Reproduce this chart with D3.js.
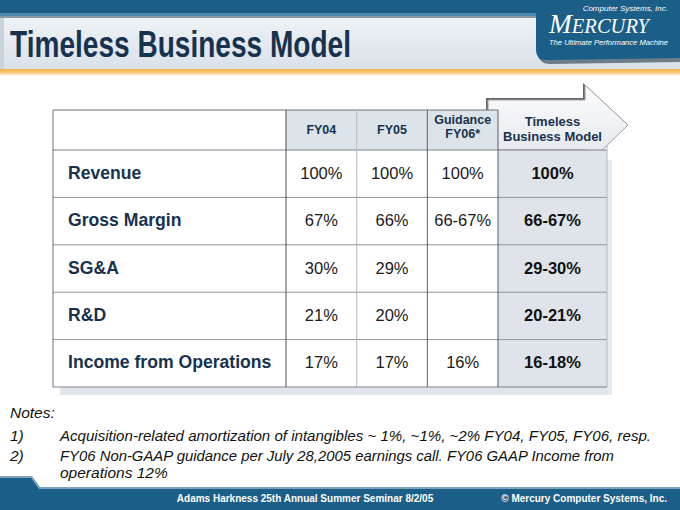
<!DOCTYPE html>
<html><head><meta charset="utf-8">
<script src="https://cdn.jsdelivr.net/npm/d3@7"></script>
<style>html,body{margin:0;padding:0;background:#fff}svg{display:block}</style>
</head><body>
<svg id="c" width="680" height="510"></svg>
<script>
const title = "Timeless Business Model";
const categories = ["Revenue", "Gross Margin", "SG&A", "R&D", "Income from Operations"];
const columns = ["FY04", "FY05", "FY06"];
const columnHeaders = [["FY04"], ["FY05"], ["Guidance", "FY06*"]];
const modelHeader = ["Timeless", "Business Model"];
const fy04 = ["100%", "67%", "30%", "21%", "17%"];
const fy05 = ["100%", "66%", "29%", "20%", "17%"];
const fy06 = ["100%", "66-67%", "", "", "16%"];
const model = ["100%", "66-67%", "29-30%", "20-21%", "16-18%"];
const notes = [
  ["", "Notes:"],
  ["1)", "Acquisition-related amortization of intangibles ~ 1%, ~1%, ~2% FY04, FY05, FY06, resp."],
  ["2)", "FY06 Non-GAAP guidance per July 28,2005 earnings call. FY06 GAAP Income from"],
  ["", "operations 12%"]
];
const footerLeft = "Adams Harkness 25th Annual Summer Seminar 8/2/05";
const footerRight = "\u00A9 Mercury Computer Systems, Inc.";

const svg = d3.select("#c");
const F = "'Liberation Sans', Arial, Helvetica, sans-serif";
const navy = "#17324f";
const blue = "#1b5e87";

const defs = svg.append("defs");
const g1 = defs.append("linearGradient").attr("id", "panel").attr("x1", 0).attr("y1", 0).attr("x2", 0).attr("y2", 1);
g1.append("stop").attr("offset", 0).attr("stop-color", "#eef2f5");
g1.append("stop").attr("offset", 1).attr("stop-color", "#d9e1e8");
const g2 = defs.append("linearGradient").attr("id", "arrow").attr("x1", 0).attr("y1", 0).attr("x2", 0).attr("y2", 1);
g2.append("stop").attr("offset", 0).attr("stop-color", "#fbfbfc");
g2.append("stop").attr("offset", 1).attr("stop-color", "#e3e7eb");
const g3 = defs.append("linearGradient").attr("id", "orange").attr("x1", 0).attr("y1", 0).attr("x2", 0).attr("y2", 1);
g3.append("stop").attr("offset", 0).attr("stop-color", "#f3b43a");
g3.append("stop").attr("offset", 0.5).attr("stop-color", "#f6c979");
g3.append("stop").attr("offset", 1).attr("stop-color", "#ffffff");

svg.append("rect").attr("width", 680).attr("height", 510).attr("fill", "#fff");

// ---- header band ----
svg.append("rect").attr("x", 0).attr("y", 0).attr("width", 680).attr("height", 13).attr("fill", blue);
svg.append("rect").attr("x", 0).attr("y", 13).attr("width", 540).attr("height", 3).attr("fill", "#4f88ad");
svg.append("rect").attr("x", 0).attr("y", 16).attr("width", 540).attr("height", 2).attr("fill", "#8a99a6");
svg.append("rect").attr("x", 0).attr("y", 18).attr("width", 680).attr("height", 52).attr("fill", "url(#panel)");
svg.append("rect").attr("x", 0).attr("y", 18).attr("width", 4).attr("height", 52).attr("fill", "#c9d3dc");
svg.append("rect").attr("x", 0).attr("y", 69).attr("width", 680).attr("height", 7).attr("fill", "url(#orange)");

// logo panel
svg.append("path")
  .attr("d", "M528,0 L680,0 L680,60 L548,62 Q536,62 536,50 L536,14 Q536,4 528,0 Z")
  .attr("fill", "#22384a").attr("transform", "translate(2,2)").attr("opacity", 0.6);
svg.append("path")
  .attr("d", "M528,0 L680,0 L680,58 L546,60 Q536,60 536,50 L536,14 Q536,4 528,0 Z")
  .attr("fill", blue);
svg.append("text").attr("x", 668).attr("y", 11).attr("text-anchor", "end")
  .attr("font-family", F).attr("font-style", "italic").attr("font-size", 8).attr("fill", "#fff")
  .text("Computer Systems, Inc.");
svg.append("text").attr("x", 549).attr("y", 33)
  .attr("font-family", "'Liberation Serif', 'Times New Roman', serif").attr("font-style", "italic")
  .attr("font-size", 28).attr("fill", "#fff").attr("textLength", 100).attr("lengthAdjust", "spacingAndGlyphs")
  .text("M").append("tspan").attr("font-size", 21).text("ERCURY");
svg.append("text").attr("x", 549).attr("y", 45)
  .attr("font-family", F).attr("font-style", "italic").attr("font-size", 7.6).attr("fill", "#fff")
  .attr("textLength", 119).attr("lengthAdjust", "spacingAndGlyphs")
  .text("The Ultimate Performance Machine");

svg.append("text").attr("x", 10).attr("y", 57)
  .attr("font-family", F).attr("font-weight", "bold").attr("font-size", 36).attr("fill", navy)
  .attr("textLength", 341).attr("lengthAdjust", "spacingAndGlyphs")
  .text(title);

// ---- table ----
const tableX0 = 53, tableX1 = 607, labelX1 = 286, modelX0 = 498;
const headTop = 110, headBot = 150, tableBot = 387;
const y = d3.scaleBand().domain(categories).range([headBot, tableBot]);
const x = d3.scaleBand().domain(columns).range([labelX1, modelX0]);
const series = {FY04: fy04, FY05: fy05, FY06: fy06};

// shadow
svg.append("rect").attr("x", 60).attr("y", tableBot).attr("width", tableX1 - 60 + 5).attr("height", 8).attr("fill", "#dfe5eb");
svg.append("rect").attr("x", tableX1).attr("y", 160).attr("width", 5).attr("height", tableBot - 160 + 8).attr("fill", "#e6ebef");

// arrow
const arrowPath = "M488,100 L585,100 L585,85 L628,125 L587,165 L587,150 L488,150 Z";
svg.append("path").attr("d", arrowPath).attr("fill", "#666").attr("transform", "translate(-2,-2)");
svg.append("path").attr("d", arrowPath).attr("fill", "url(#arrow)").attr("stroke", "#9a9fa5").attr("stroke-width", 1);

// label area + header cells
svg.append("rect").attr("x", tableX0).attr("y", headTop).attr("width", modelX0 - tableX0).attr("height", tableBot - headTop).attr("fill", "#fff");
svg.append("g").selectAll("rect").data(columns).join("rect")
  .attr("x", d => x(d)).attr("y", headTop).attr("width", x.bandwidth()).attr("height", headBot - headTop)
  .attr("fill", "#dce3e9");
// model column
svg.append("rect").attr("x", modelX0).attr("y", headBot).attr("width", tableX1 - modelX0).attr("height", tableBot - headBot).attr("fill", "#dee4e9");

// horizontal lines
svg.append("g").selectAll("line").data(categories.slice(1)).join("line")
  .attr("x1", tableX0).attr("x2", tableX1).attr("y1", d => y(d)).attr("y2", d => y(d))
  .attr("stroke", "#8d9398").attr("stroke-width", 1);
svg.append("line").attr("x1", tableX0).attr("x2", tableX1).attr("y1", headBot).attr("y2", headBot).attr("stroke", "#7d8388");
svg.append("line").attr("x1", tableX0).attr("x2", tableX1).attr("y1", tableBot).attr("y2", tableBot).attr("stroke", "#7d8388");
svg.append("line").attr("x1", tableX0).attr("x2", modelX0).attr("y1", headTop).attr("y2", headTop).attr("stroke", "#6d7378");
// vertical lines
svg.append("line").attr("x1", tableX0).attr("x2", tableX0).attr("y1", headTop).attr("y2", tableBot).attr("stroke", "#6d7378");
const vlines = [
  {x: labelX1, c: "#4a4f54"},
  {x: x("FY05"), c: "#b4b9be"},
  {x: x("FY06"), c: "#5a5f64"},
  {x: modelX0, c: "#5a5f64"}
];
svg.append("g").selectAll("line").data(vlines).join("line")
  .attr("x1", d => d.x).attr("x2", d => d.x).attr("y1", headTop).attr("y2", tableBot)
  .attr("stroke", d => d.c).attr("stroke-width", 1);
svg.append("line").attr("x1", tableX1).attr("x2", tableX1).attr("y1", 146).attr("y2", tableBot).attr("stroke", "#b3b9be");

// headers
columnHeaders.forEach((lines, i) => {
  const cx = x(columns[i]) + x.bandwidth() / 2;
  const t = svg.append("text").attr("text-anchor", "middle").attr("font-family", F)
    .attr("font-weight", "bold").attr("font-size", 12.5).attr("fill", navy);
  lines.forEach((s, j) => {
    const yy = lines.length === 1 ? 134 : 124 + j * 14;
    t.append("tspan").attr("x", cx).attr("y", yy).text(s);
  });
});
const mt = svg.append("text").attr("text-anchor", "middle").attr("font-family", F)
  .attr("font-weight", "bold").attr("font-size", 13).attr("fill", navy);
modelHeader.forEach((s, j) => mt.append("tspan").attr("x", (modelX0 + tableX1) / 2).attr("y", 126 + j * 15).text(s));

// row labels
svg.append("g").selectAll("text").data(categories).join("text")
  .attr("x", 68).attr("y", d => y(d) + y.bandwidth() / 2 + 5)
  .attr("font-family", F).attr("font-weight", "bold").attr("font-size", 17.6).attr("fill", navy)
  .text(d => d);

// values
columns.forEach(col => {
  svg.append("g").selectAll("text").data(series[col]).join("text")
    .attr("x", x(col) + x.bandwidth() / 2)
    .attr("y", (d, i) => y(categories[i]) + y.bandwidth() / 2 + 5)
    .attr("text-anchor", "middle").attr("font-family", F).attr("font-size", 16.5).attr("fill", "#1a1a1a")
    .text(d => d);
});
svg.append("g").selectAll("text").data(model).join("text")
  .attr("x", (modelX0 + tableX1) / 2)
  .attr("y", (d, i) => y(categories[i]) + y.bandwidth() / 2 + 5)
  .attr("text-anchor", "middle").attr("font-family", F).attr("font-weight", "bold").attr("font-size", 16.5).attr("fill", "#111")
  .text(d => d);

// notes
const noteY = [418, 441, 461, 478];
const noteLen = [null, 591, 554, null];
notes.forEach((n, i) => {
  if (n[0]) svg.append("text").attr("x", 10).attr("y", noteY[i]).attr("font-family", F).attr("font-style", "italic")
    .attr("font-size", 15.5).attr("fill", "#111").text(n[0]);
  const t = svg.append("text").attr("x", n[0] || i === 3 ? 60 : 10).attr("y", noteY[i]).attr("font-family", F)
    .attr("font-style", "italic").attr("font-size", 15.5).attr("fill", "#111").text(n[1]);
  if (noteLen[i]) t.attr("textLength", noteLen[i]).attr("lengthAdjust", "spacingAndGlyphs");
});

// footer
svg.append("path").attr("d", "M0,476 L32,476 L40,487 L680,487 L680,510 L0,510 Z").attr("fill", "#7fa3bd");
svg.append("path").attr("d", "M0,478 L31,478 L39,489 L680,489 L680,510 L0,510 Z").attr("fill", blue);
svg.append("text").attr("x", 305).attr("y", 502).attr("text-anchor", "middle")
  .attr("font-family", F).attr("font-weight", "bold").attr("font-size", 10).attr("fill", "#fff").text(footerLeft);
svg.append("text").attr("x", 667).attr("y", 502).attr("text-anchor", "end")
  .attr("font-family", F).attr("font-weight", "bold").attr("font-size", 10).attr("fill", "#fff").text(footerRight);
</script>
</body></html>
